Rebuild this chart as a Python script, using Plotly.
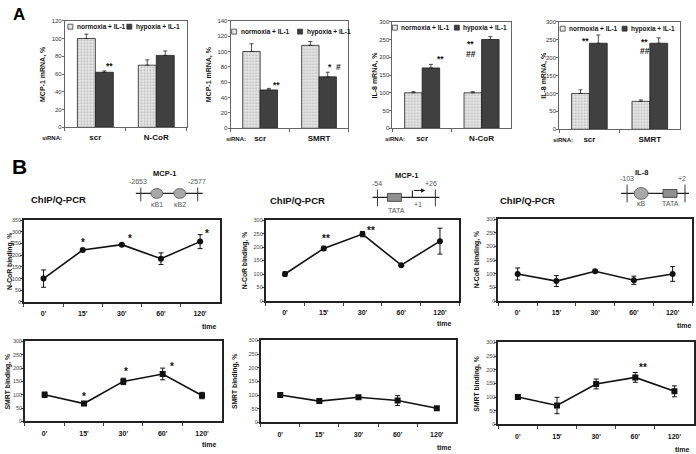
import plotly.graph_objects as go

W, H = 696, 454
FONT = "Liberation Sans, Arial, sans-serif"

# ---------------- Panel A data (bar charts) ----------------
sirna_ncor = ["scr", "N-CoR"]
sirna_smrt = ["scr", "SMRT"]

a1_norm = [100, 70]
a1_norm_err = [5, 6]
a1_hyp = [62, 81]
a1_hyp_err = [1.5, 5]

a2_norm = [100, 108]
a2_norm_err = [10, 5]
a2_hyp = [50, 67]
a2_hyp_err = [2, 6]

a3_norm = [100, 100]
a3_norm_err = [3, 3]
a3_hyp = [170, 250]
a3_hyp_err = [10, 8]

a4_norm = [100, 78]
a4_norm_err = [10, 4]
a4_hyp = [240, 240]
a4_hyp_err = [23, 15]

legend_labels = ["normoxia + IL-1", "hypoxia + IL-1"]

# ---------------- Panel B data (ChIP time courses) ----------------
times = ["0'", "15'", "30'", "60'", "120'"]

ncor_mcp1_kb = [100, 222, 245, 185, 258]
ncor_mcp1_kb_err = [37, 5, 5, 25, 30]
ncor_mcp1_tata = [100, 195, 248, 133, 222]
ncor_mcp1_tata_err = [8, 8, 10, 3, 48]
ncor_il8 = [99, 73, 109, 76, 99]
ncor_il8_err = [22, 20, 3, 15, 27]

smrt_mcp1_kb = [100, 67, 150, 178, 97]
smrt_mcp1_kb_err = [10, 4, 12, 22, 12]
smrt_mcp1_tata = [100, 78, 92, 80, 52]
smrt_mcp1_tata_err = [3, 3, 4, 18, 4]
smrt_il8 = [100, 69, 148, 172, 121]
smrt_il8_err = [3, 30, 18, 18, 20]


def dom_x(a, b):
    return [a / W, b / W]


def dom_y(top, bot):
    return [1 - bot / H, 1 - top / H]


def PX(x):
    return x / W


def PY(y):
    return 1 - y / H


def ax_names(k):
    s = "" if k == 1 else str(k)
    return "x" + s, "y" + s, "xaxis" + s, "yaxis" + s


fig = go.Figure()
layout = dict(
    width=W, height=H, margin=dict(l=0, r=0, t=0, b=0),
    paper_bgcolor="white", plot_bgcolor="white", showlegend=False,
    barmode="group", bargap=0.41, bargroupgap=0,
    font=dict(family=FONT, color="black"),
)
annotations = []
shapes = []


def note(x, y, text, size=7, bold=False, color="#111", xanchor="center", angle=0):
    f = dict(size=size, color=color)
    if bold:
        f["weight"] = "bold"
    annotations.append(dict(x=PX(x), y=PY(y), xref="paper", yref="paper", text=text,
                            showarrow=False, font=f, xanchor=xanchor, yanchor="middle",
                            textangle=angle))


NORM_MARKER = dict(
    color="#e4e4e4", line=dict(color="#222", width=0.8),
    pattern=dict(shape=".", fgcolor="#8a8a8a", bgcolor="#e8e8e8", size=3, solidity=0.35),
)
HYP_MARKER = dict(color="#404040", line=dict(color="#222", width=0.8))

# ---------------- Panel A ----------------
a_panels = [
    (sirna_ncor, a1_norm, a1_norm_err, a1_hyp, a1_hyp_err, "MCP-1 mRNA, %", 120, 20),
    (sirna_smrt, a2_norm, a2_norm_err, a2_hyp, a2_hyp_err, "MCP-1 mRNA, %", 140, 20),
    (sirna_ncor, a3_norm, a3_norm_err, a3_hyp, a3_hyp_err, "IL-8 mRNA, %", 300, 50),
    (sirna_smrt, a4_norm, a4_norm_err, a4_hyp, a4_hyp_err, "IL-8 mRNA, %", 300, 50),
]
a_boxes = [(65, 187, 18, 126), (231, 349, 18, 127), (393, 512, 19, 127), (560, 681, 19, 128)]
a_ytitle_x = [43, 209, 376, 544]
a_sirna_x = [52, 236, 396, 564]
a_legend = [  # (square1 x, text1 x, square2 x, text2 x, y)
    (68, 75, 127, 134, 24),
    (232, 239, 298, 305, 29),
    (393, 400, 455, 462, 25),
    (561, 568, 623, 630, 26),
]

for i, (cats, n, ne, h, he, ytitle, ymax, dt) in enumerate(a_panels):
    k = i + 1
    xa, ya, xk, yk = ax_names(k)
    x0, x1, y0, y1 = a_boxes[i]
    fig.add_trace(go.Bar(
        x=cats, y=n, xaxis=xa, yaxis=ya, offsetgroup="n", name=legend_labels[0],
        marker=NORM_MARKER,
        error_y=dict(type="data", array=ne, arrayminus=[0] * len(ne), symmetric=False,
                     color="#222", thickness=0.8, width=2),
    ))
    fig.add_trace(go.Bar(
        x=cats, y=h, xaxis=xa, yaxis=ya, offsetgroup="h", name=legend_labels[1],
        marker=HYP_MARKER,
        error_y=dict(type="data", array=he, arrayminus=[0] * len(he), symmetric=False,
                     color="#222", thickness=0.8, width=2),
    ))
    layout[xk] = dict(
        domain=dom_x(x0, x1), anchor=ya, type="category", range=[-0.5, 1.5],
        tickson="boundaries", ticks="outside", ticklen=3, tickcolor="#666",
        showline=True, linecolor="#666", linewidth=1, mirror=True, showgrid=False,
        tickfont=dict(size=8, weight="bold", color="#111"), ticklabelstandoff=2,
    )
    layout[yk] = dict(
        domain=dom_y(y0, y1), anchor=xa, range=[0, ymax], dtick=dt,
        ticks="outside", ticklen=2, tickcolor="#666",
        showline=True, linecolor="#666", linewidth=1, mirror=True,
        showgrid=False, zeroline=False, tickfont=dict(size=6, color="#333"),
        ticklabelstandoff=-1,
    )
    note(a_ytitle_x[i], (y0 + y1) / 2, ytitle, 7, True, angle=-90)
    note(a_sirna_x[i], y1 + 11, "siRNA:", 6, True)
    s1, t1, s2, t2, ly = a_legend[i]
    shapes.append(dict(type="rect", xref="paper", yref="paper",
                       x0=PX(s1), x1=PX(s1 + 5), y0=PY(ly + 2.5), y1=PY(ly - 2.5),
                       fillcolor="#e8e8e8", line=dict(color="#222", width=0.7)))
    shapes.append(dict(type="rect", xref="paper", yref="paper",
                       x0=PX(s2), x1=PX(s2 + 5), y0=PY(ly + 2.5), y1=PY(ly - 2.5),
                       fillcolor="#404040", line=dict(color="#222", width=0.7)))
    note(t1, ly, legend_labels[0], 6.5, True, xanchor="left")
    note(t2, ly, legend_labels[1], 6.5, True, xanchor="left")

# significance marks in panel A  (axis, category, value, text, xshift)
a_marks = [
    (1, "scr", 71, "**", 14),
    (2, "scr", 59, "**", 16),
    (2, "SMRT", 83, "*  #", 15),
    (3, "scr", 200, "**", 18),
    (3, "N-CoR", 242, "**", -11),
    (3, "N-CoR", 214, "##", -11),
    (4, "scr", 253, "**", -4),
    (4, "SMRT", 250, "**", -5),
    (4, "SMRT", 223, "##", -5),
]
for k, cat, val, txt_, xs in a_marks:
    xa, ya, _, _ = ax_names(k)
    annotations.append(dict(
        x=cat, y=val, xref=xa, yref=ya, text=txt_, showarrow=False, xshift=xs,
        yshift=-2, xanchor="center", yanchor="middle",
        font=dict(size=8.5, weight="bold", color="#111"),
    ))

# ---------------- Panel B ----------------
b_panels = [
    (ncor_mcp1_kb, ncor_mcp1_kb_err, "N-CoR binding, %", 350, "circle"),
    (ncor_mcp1_tata, ncor_mcp1_tata_err, "N-CoR binding, %", 300, "circle"),
    (ncor_il8, ncor_il8_err, "N-CoR binding, %", 300, "circle"),
    (smrt_mcp1_kb, smrt_mcp1_kb_err, "SMRT binding, %", 300, "square"),
    (smrt_mcp1_tata, smrt_mcp1_tata_err, "SMRT binding, %", 300, "square"),
    (smrt_il8, smrt_il8_err, "SMRT binding, %", 300, "square"),
]
b_boxes = [
    (24, 220, 220, 303), (266, 460, 220, 302), (499, 693, 219, 302),
    (25, 222, 343, 424), (261, 457, 342, 425), (499, 695, 344, 427),
]
b_ytitle_x = [10, 245, 478, 8, 236, 478]
b_time = [(210, 328), (445, 325), (685, 327), (210, 447), (445, 450), (683, 452)]

for j, (vals, errs, ytitle, ymax, sym) in enumerate(b_panels):
    k = j + 5
    xa, ya, xk, yk = ax_names(k)
    x0, x1, y0, y1 = b_boxes[j]
    fig.add_trace(go.Scatter(
        x=times, y=vals, xaxis=xa, yaxis=ya, mode="lines+markers",
        line=dict(color="#111", width=1.6),
        marker=dict(symbol=sym, size=6, color="#111"),
        error_y=dict(type="data", array=errs, color="#111", thickness=1, width=2.5),
    ))
    layout[xk] = dict(
        domain=dom_x(x0, x1), anchor=ya, type="category", range=[-0.5, 4.5],
        tickson="boundaries", ticks="outside", ticklen=3, tickcolor="#444",
        showline=True, linecolor="#222", linewidth=1.6, mirror=True, showgrid=False,
        tickfont=dict(size=7, weight="bold", color="#111"), ticklabelstandoff=4,
    )
    layout[yk] = dict(
        domain=dom_y(y0, y1), anchor=xa, range=[0, ymax], dtick=50,
        ticks="outside", ticklen=2, tickcolor="#444",
        showline=True, linecolor="#222", linewidth=1.6, mirror=True,
        showgrid=False, zeroline=False, tickfont=dict(size=5.5, color="#444"),
        ticklabelstandoff=-2,
    )
    note(b_ytitle_x[j], (y0 + y1) / 2, ytitle, 6.8, True, angle=-90)
    tx, ty = b_time[j]
    note(tx, ty, "time", 7, True)

b_marks = [
    (5, "15'", 261, "*", 0),
    (5, "30'", 278, "*", 8),
    (5, "120'", 303, "*", 7),
    (6, "15'", 238, "**", 2),
    (6, "30'", 267, "**", 9),
    (8, "15'", 100, "*", 0),
    (8, "30'", 193, "*", 3),
    (8, "60'", 215, "*", 9),
    (10, "60'", 217, "**", 8),
]
for k, cat, val, txt_, xs in b_marks:
    xa, ya, _, _ = ax_names(k)
    annotations.append(dict(
        x=cat, y=val, xref=xa, yref=ya, text=txt_, showarrow=False, xshift=xs,
        yshift=-2, xanchor="center", yanchor="middle",
        font=dict(size=10, weight="bold", color="#111"),
    ))

# ---------------- Panel letters and headings ----------------
note(19, 12, "A", 17, True, "black")
note(20, 166, "B", 21, True, "black")
for cx, cy in ((59, 199), (298, 200), (528, 200)):
    note(cx, cy, "ChIP/Q-PCR", 9.5, True)


def line(xa, ya, xb, yb, w=1.3, c="#222"):
    shapes.append(dict(type="line", xref="paper", yref="paper",
                       x0=PX(xa), y0=PY(ya), x1=PX(xb), y1=PY(yb),
                       line=dict(color=c, width=w)))


def ellipse(cx, cy, rx, ry):
    shapes.append(dict(type="circle", xref="paper", yref="paper",
                       x0=PX(cx - rx), x1=PX(cx + rx), y0=PY(cy + ry), y1=PY(cy - ry),
                       fillcolor="#a8a8a8", line=dict(color="#555", width=0.8)))


def box(xa, xb, ya, yb):
    shapes.append(dict(type="rect", xref="paper", yref="paper",
                       x0=PX(xa), x1=PX(xb), y0=PY(yb), y1=PY(ya),
                       fillcolor="#909090", line=dict(color="#444", width=0.9)))


GRAY = "#555"
# MCP-1 enhancer (kB1, kB2)
note(165, 173, "MCP-1", 7.5, True)
note(138, 181, "-2653", 7, color=GRAY)
note(197, 181, "-2577", 7, color=GRAY)
line(136, 193, 203, 193)
line(141, 187, 141, 201, 0.9)
line(198, 187, 198, 201, 0.9)
ellipse(157, 193, 6, 5)
ellipse(180, 193, 6, 5)
note(157, 204, "κB1", 7, color=GRAY)
note(180, 204, "κB2", 7, color=GRAY)

# MCP-1 promoter (TATA, +1)
note(407, 175, "MCP-1", 7.5, True)
note(378, 183, "-54", 7, color=GRAY)
note(432, 183, "+26", 7, color=GRAY)
line(373, 197, 440, 197)
line(378, 189, 378, 206, 0.9)
line(436, 189, 436, 206, 0.9)
box(388, 402, 193, 201)
note(397, 210, "TATA", 7, color=GRAY)
line(413, 197, 413, 190, 1.1)
annotations.append(dict(x=PX(426), y=PY(190), xref="paper", yref="paper", text="",
                        showarrow=True, ax=-13, ay=0, arrowhead=2, arrowsize=0.8,
                        arrowwidth=1.1, arrowcolor="#222"))
note(419, 204, "+1", 7, color=GRAY)

# IL-8 promoter (kB, TATA)
note(642, 172, "IL-8", 7.5, True)
note(628, 178, "-103", 7, color=GRAY)
note(683, 178, "+2", 7, color=GRAY)
line(622, 193, 690, 193)
line(628, 184, 628, 202, 0.9)
line(686, 184, 686, 202, 0.9)
ellipse(642, 193, 7, 6)
box(664, 678, 189, 197)
note(642, 203, "κB", 7, color=GRAY)
note(671, 203, "TATA", 7, color=GRAY)

layout["annotations"] = annotations
layout["shapes"] = shapes
fig.update_layout(**layout)
fig.write_html(
    "out.html",
    config={"displayModeBar": False},
    post_script="document.body.style.margin='0';document.body.style.overflow='hidden';",
)
